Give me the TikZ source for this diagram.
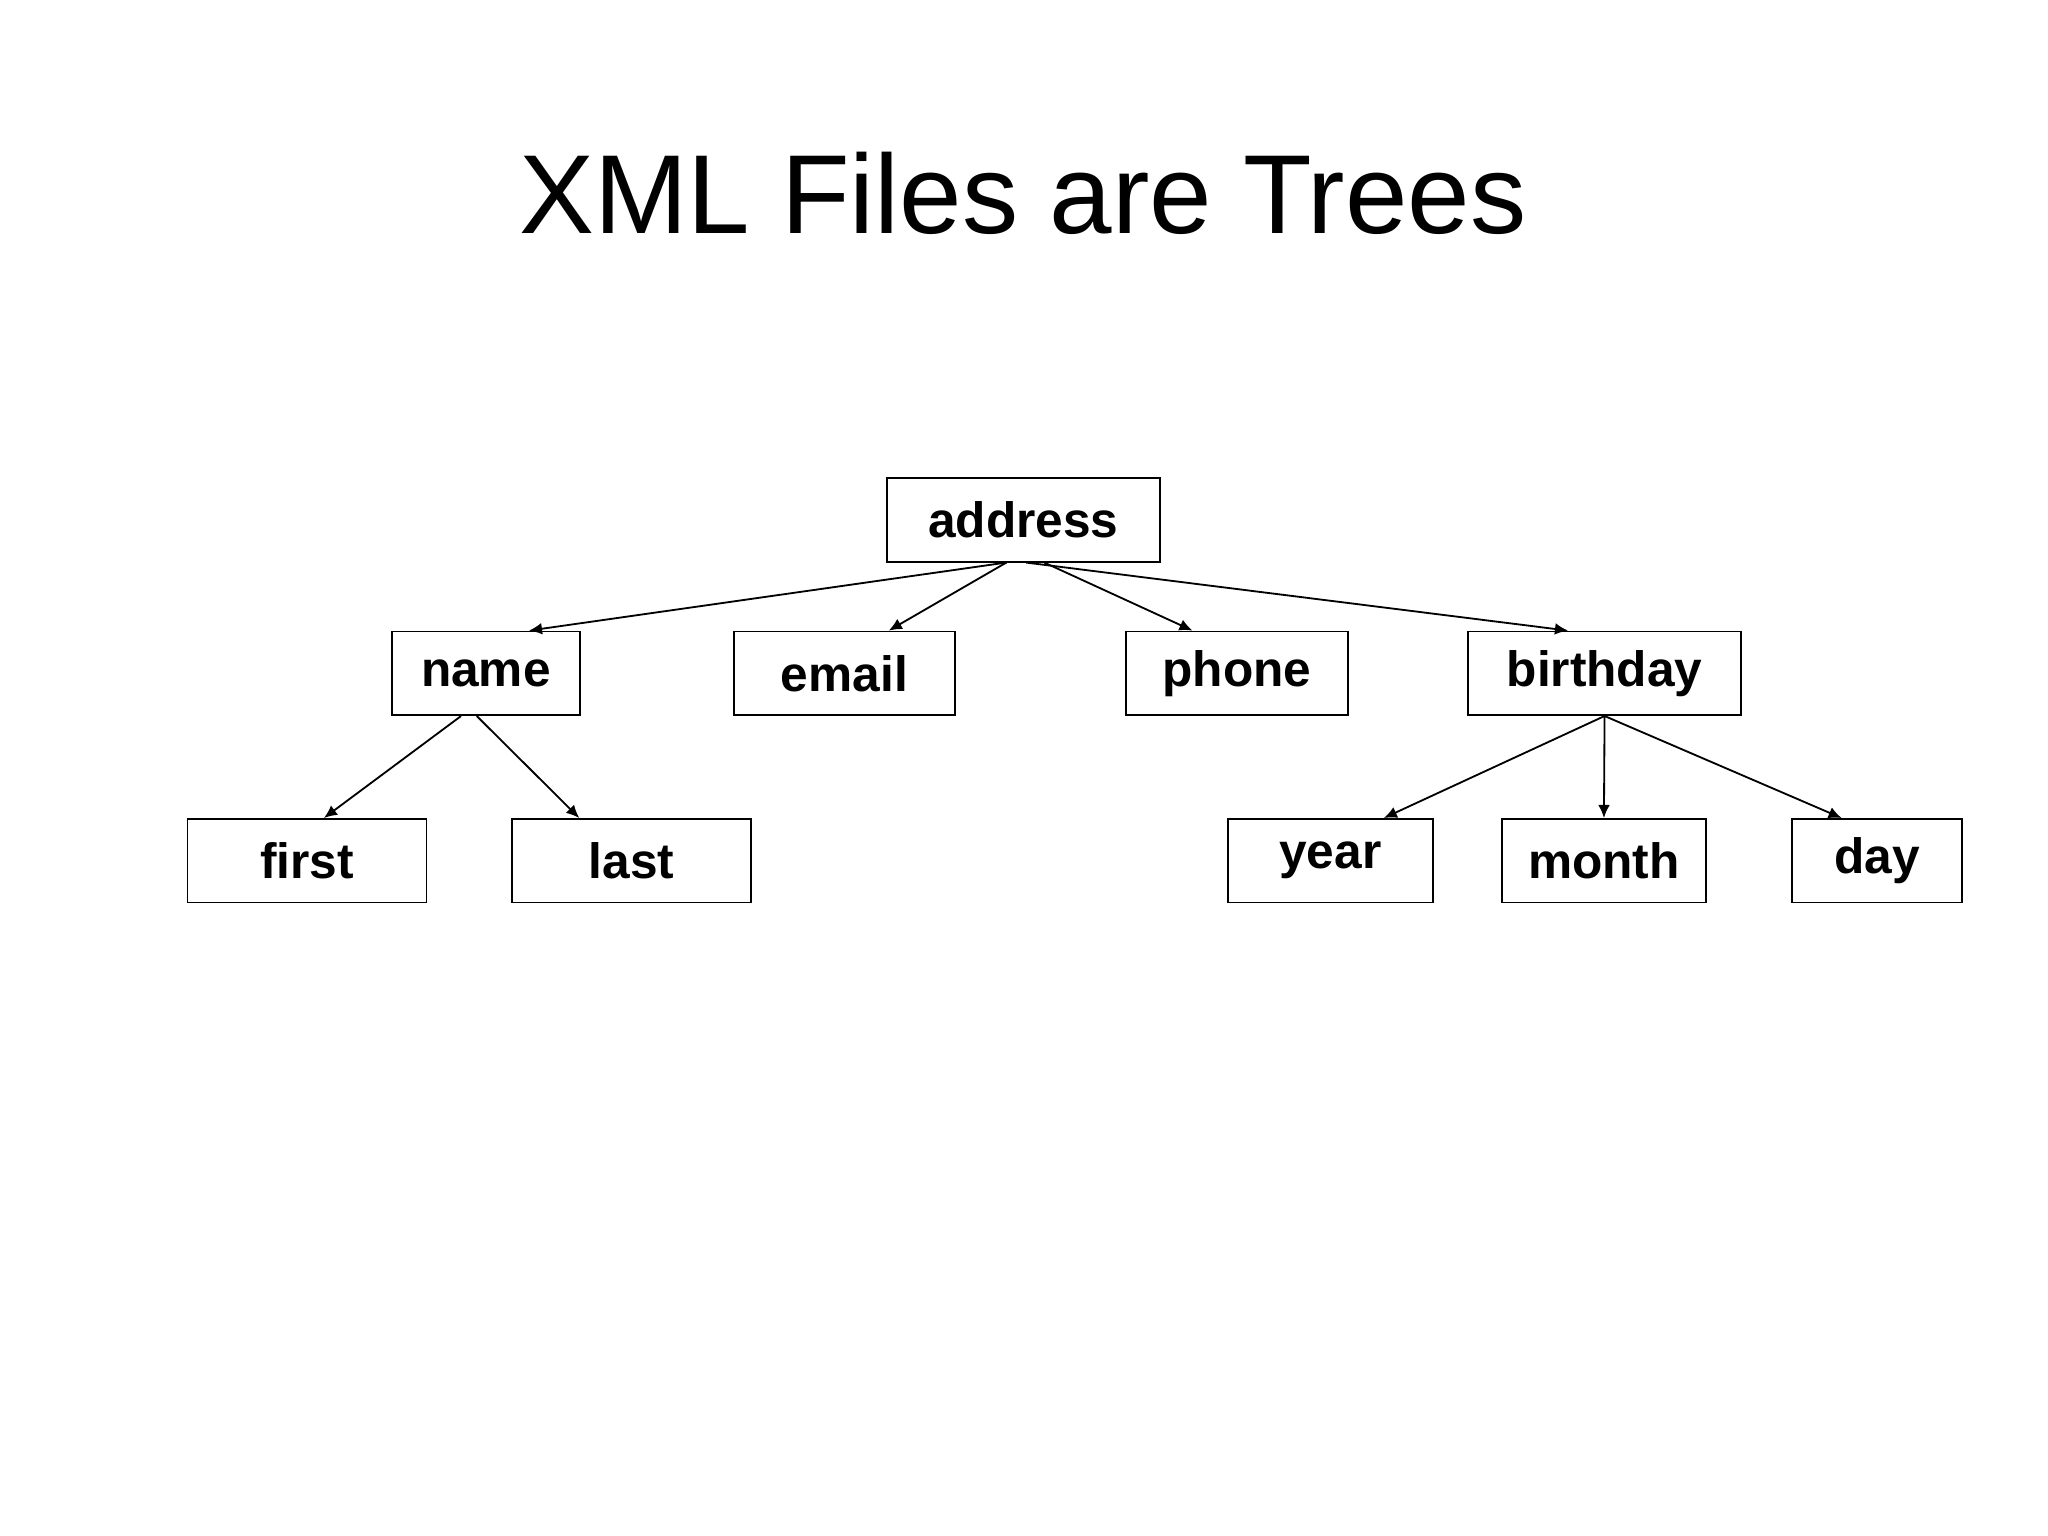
\documentclass[tikz,border=0pt]{standalone}
\usepackage{fontspec}
\setmainfont{Liberation Sans}
\usetikzlibrary{arrows.meta}
\begin{document}
\begin{tikzpicture}[x=0.5pt,y=-0.5pt,
  box/.style={draw,line width=0.7pt,inner sep=0pt,minimum height=32pt,font=\bfseries\fontsize{19}{22}\selectfont},
  arr/.style={line width=0.7pt,-{Latex[length=5pt,width=4.5pt]}}]
\useasboundingbox (0,0) rectangle (1568,1176);
\node[font=\fontsize{43}{50}\selectfont] (title) at (783,148) {XML Files are Trees};
\node[box,minimum width=104.5pt] (address) at (783.5,398) {address};
\node[box,minimum width=72pt] (name) at (372,515.5) {name};
\node[box,minimum width=84.5pt] (email) at (646.5,515.5) {email};
\node[box,minimum width=85pt] (phone) at (947,515.5) {phone};
\node[box,minimum width=104.5pt] (birthday) at (1228.5,515.5) {birthday};
\node[box,minimum width=91.5pt] (first) at (235,659) {first};
\node[box,minimum width=91.5pt] (last) at (483.5,659) {last};
\node[box,minimum width=78.5pt] (year) at (1018.5,659) {year};
\node[box,minimum width=78pt] (month) at (1228,659) {month};
\node[box,minimum width=65pt] (day) at (1437,659) {day};
\draw[arr] ([xshift=-6.5pt]address.south) -- ([xshift=16.5pt]name.north);
\draw[arr] ([xshift=-6.5pt]address.south) -- ([xshift=17pt]email.north);
\draw[arr] ([xshift=8pt]address.south) -- ([xshift=-17pt]phone.north);
\draw[arr] ([xshift=1pt]address.south) -- ([xshift=-14pt]birthday.north);
\draw[arr] ([xshift=-9.5pt]name.south) -- ([xshift=6.5pt]first.north);
\draw[arr] ([xshift=-3.5pt]name.south) -- ([xshift=-20pt]last.north);
\draw[arr] (birthday.south) -- ([xshift=20.5pt]year.north);
\draw[arr] (birthday.south) -- (month.north);
\draw[arr] (birthday.south) -- ([xshift=-13.5pt]day.north);
\end{tikzpicture}
\end{document}
